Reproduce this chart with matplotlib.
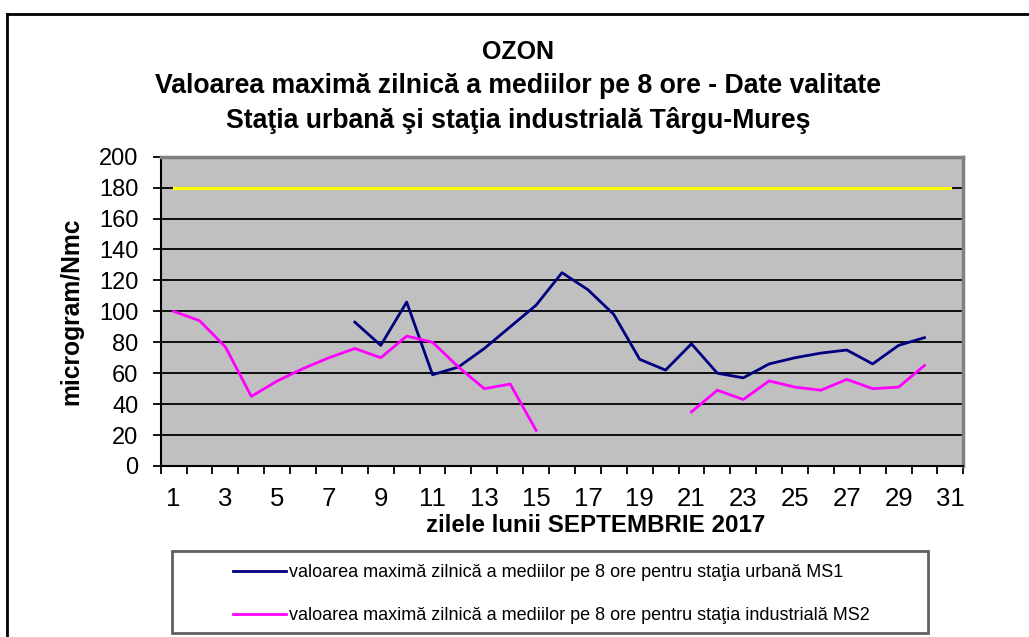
import numpy as np
import matplotlib.pyplot as plt
from matplotlib.lines import Line2D
from matplotlib.patches import Rectangle

plt.rcParams['font.family'] = ['Liberation Sans', 'DejaVu Sans']

# data (NaN = no valid data)
zile = np.arange(1, 32)
ms1 = [np.nan, np.nan, np.nan, np.nan, np.nan, np.nan, np.nan,
       93, 78, 106, 59, 64, 76, 90, 104, 125, 114, 98, 69, 62,
       79, 60, 57, 66, 70, 73, 75, 66, 78, 83, np.nan]
ms2 = [100, 94, 77, 45, 55, 63, 70, 76, 70, 84, 80, 64, 50, 53, 23,
       np.nan, np.nan, np.nan, np.nan, np.nan,
       35, 49, 43, 55, 51, 49, 56, 50, 51, 65, np.nan]
limita = [180] * 31

eticheta_ms1 = 'valoarea maximă zilnică a mediilor pe 8 ore pentru staţia urbană MS1'
eticheta_ms2 = 'valoarea maximă zilnică a mediilor pe 8 ore pentru staţia industrială MS2'

W, H = 1029, 637
fig = plt.figure(figsize=(W / 100, H / 100), dpi=100)
ax = fig.add_axes([160.7 / W, 1 - 466 / H, 802.6 / W, 309.3 / H])
ax.set_facecolor('#c0c0c0')

ax.plot(zile, limita, color='#ffff00', linewidth=2.2)
l1, = ax.plot(zile, ms1, color='#000080', linewidth=2)
l2, = ax.plot(zile, ms2, color='#ff00ff', linewidth=2)

ax.set_xlim(0.5, 31.5)
ax.set_ylim(0, 200)
ax.set_yticks(np.arange(0, 201, 20))
ax.yaxis.grid(True, color='black', linewidth=1.3)
ax.set_axisbelow(True)

ax.set_xticks(np.arange(1, 32, 2))
ax.set_xticks(np.arange(0.5, 32, 1), minor=True)
ax.tick_params(axis='x', which='major', length=0, pad=15, labelsize=18.5)
ax.tick_params(axis='x', which='minor', length=6, width=1.3, direction='out')
ax.tick_params(axis='y', length=6, width=1.3, pad=10, labelsize=17)

for s in ['top', 'right']:
    ax.spines[s].set_color('#808080')
    ax.spines[s].set_linewidth(2.5)
ax.spines['left'].set_linewidth(1.5)
ax.spines['bottom'].set_linewidth(1.5)

ax.set_ylabel('microgram/Nmc', fontsize=17.7, fontweight='bold', labelpad=11)
ax.set_xlabel('zilele lunii SEPTEMBRIE 2017', fontsize=17.4, fontweight='bold',
              labelpad=2, x=0.5417)

fig.text(518 / W, 1 - 52 / H, 'OZON', ha='center', va='center', fontsize=18, fontweight='bold')
fig.text(518 / W, 1 - 86 / H, 'Valoarea maximă zilnică a mediilor pe 8 ore - Date valitate',
         ha='center', va='center', fontsize=19.2, fontweight='bold')
fig.text(518 / W, 1 - 121 / H, 'Staţia urbană şi staţia industrială Târgu-Mureş',
         ha='center', va='center', fontsize=19.2, fontweight='bold')

# outer chart border (only left and top visible)
fig.add_artist(Line2D([7 / W, 7 / W], [0, 1 - 14 / H], color='black', linewidth=2))
fig.add_artist(Line2D([7 / W, 1], [1 - 14 / H, 1 - 14 / H], color='black', linewidth=2))

# legend box
fig.add_artist(Rectangle((172 / W, 1 - 633 / H), 756 / W, 82 / H, fill=False,
                         edgecolor='#606060', linewidth=2))
fig.legend([l1, l2], [eticheta_ms1, eticheta_ms2], loc='center left',
           bbox_to_anchor=(217 / W, 1 - 594 / H), frameon=False, fontsize=13,
           handlelength=2.9, handletextpad=0.2, labelspacing=1.45)

plt.savefig('out.png', dpi=100)
